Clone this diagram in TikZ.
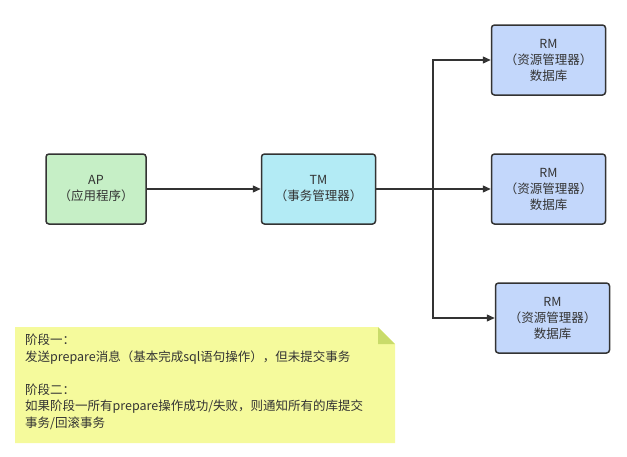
\documentclass[tikz,border=0pt]{standalone}
\usepackage{fontspec}
\setmainfont{Noto Sans CJK SC}
\usetikzlibrary{arrows.meta,positioning}
\definecolor{apfill}{HTML}{C6EFC6}
\definecolor{tmfill}{HTML}{B3EBF5}
\definecolor{rmfill}{HTML}{C3D7FB}
\definecolor{notefill}{HTML}{F5FA9C}
\definecolor{notefold}{HTML}{C9DB6A}
\definecolor{linegray}{HTML}{333333}
\begin{document}
\begin{tikzpicture}[x=1pt,y=-1pt,>={Triangle[length=8pt,width=7pt]},
  box/.style={draw=linegray,line width=1.5pt,rounded corners=3pt,minimum width=114pt,
    minimum height=70pt,align=center,font=\fontsize{12.5}{16}\selectfont,text=linegray,inner sep=0pt},
  link/.style={draw=linegray,line width=1.3pt,->}]
  \useasboundingbox (0,0) rectangle (627,456);
  % boxes
  \node[box,fill=apfill,minimum width=100pt] (ap) at (96,189) {AP\\（应用程序）};
  \node[box,fill=tmfill] (tm) at (318.5,189) {TM\\（事务管理器）};
  \node[box,fill=rmfill] (rma) at (548.5,60) {RM\\（资源管理器）\\数据库};
  \node[box,fill=rmfill] (rmb) at (548.5,189) {RM\\（资源管理器）\\数据库};
  \node[box,fill=rmfill] (rmc) at (552.5,318) {RM\\（资源管理器）\\数据库};
  % connectors
  \coordinate (fork) at (433,189);
  \draw[link] (ap) -- (tm);
  \draw[link] (tm) -- (rmb);
  \draw[link] (fork) |- (rma);
  \draw[link] (fork) |- (rmc);
  % note
  \fill[notefill] (15,327) -- (378,327) -- (395,344) -- (395,443) -- (15,443) -- cycle;
  \fill[notefold] (378,327) -- (395,344) -- (378,344) -- cycle;
  \node[anchor=north west,align=left,text=linegray,font=\fontsize{12.5}{16.5}\selectfont,inner sep=0pt]
    (note) at (25,334) {阶段一：\\发送prepare消息（基本完成sql语句操作），但未提交事务\\[16.5pt]阶段二：\\如果阶段一所有prepare操作成功/失败，则通知所有的库提交\\事务/回滚事务};
\end{tikzpicture}
\end{document}
